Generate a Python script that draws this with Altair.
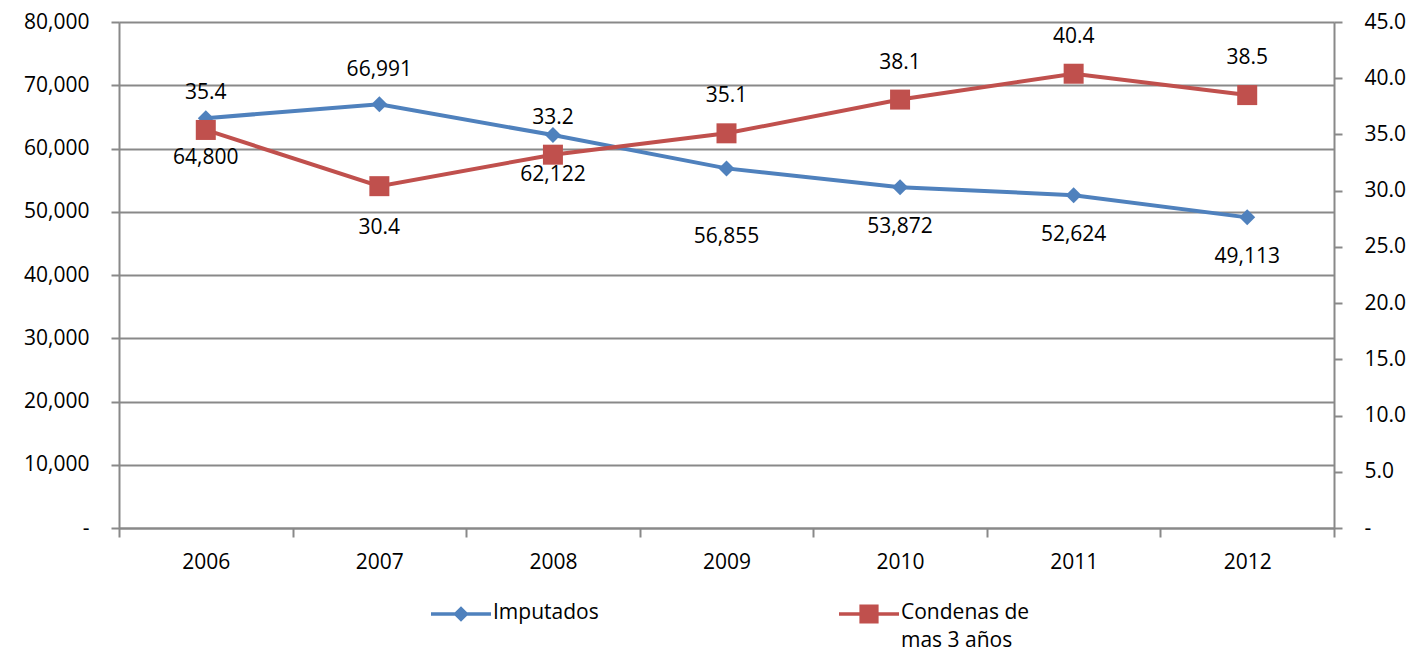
import altair as alt
import pandas as pd

years = ["2006", "2007", "2008", "2009", "2010", "2011", "2012"]
imputados = [64800, 66991, 62122, 56855, 53872, 52624, 49113]
condenas = [35.4, 30.4, 33.2, 35.1, 38.1, 40.4, 38.5]
series_names = ["Imputados", "Condenas de mas 3 años"]

# label placement groups (which years get labels above / below / further below)
blue_above = ["2007"]
blue_below_far = ["2009"]
red_below = ["2007"]

BLUE = "#4F81BD"
RED = "#C0504D"
GRAY = "#898989"
FONT = "Open Sans"
FS = 21

df = pd.DataFrame({"year": years, "imputados": imputados, "condenas": condenas})

x_enc = alt.X(
    "year:O",
    title=None,
    bandPosition=0.5,
    scale=alt.Scale(type="band", paddingInner=0, paddingOuter=0),
    axis=alt.Axis(
        tickBand="extent", labelAngle=0, domainColor=GRAY, domainWidth=2,
        tickColor=GRAY, tickWidth=2, tickSize=9, labelPadding=14,
        labelFont=FONT, labelFontSize=FS, labelColor="black", grid=False,
    ),
)

y_left = alt.Y(
    "imputados:Q",
    title=None,
    scale=alt.Scale(domain=[0, 80000], nice=False, zero=True),
    axis=alt.Axis(
        orient="left", values=list(range(0, 80001, 10000)),
        labelExpr="datum.value == 0 ? '-' : format(datum.value, ',')",
        domainColor=GRAY, domainWidth=2, tickColor=GRAY, tickWidth=2, tickSize=8,
        labelPadding=22, labelFont=FONT, labelFontSize=FS, labelColor="black",
        grid=True, gridColor=GRAY, gridWidth=2,
    ),
)

y_right = alt.Y(
    "condenas:Q",
    title=None,
    scale=alt.Scale(domain=[0, 45], nice=False, zero=True),
    axis=alt.Axis(
        orient="right", values=[0, 5, 10, 15, 20, 25, 30, 35, 40, 45],
        labelExpr="datum.value == 0 ? '-' : format(datum.value, '.1f')",
        domainColor=GRAY, domainWidth=2, tickColor=GRAY, tickWidth=2, tickSize=8,
        labelPadding=22, labelFont=FONT, labelFontSize=FS, labelColor="black",
        grid=False,
    ),
)

base = alt.Chart(df).encode(x=x_enc)

def text_layer(data_field, fmt, dy, filt):
    return base.transform_filter(filt).mark_text(
        font=FONT, fontSize=FS, color="black", dy=dy, baseline="middle"
    ).encode(text=alt.Text(data_field + ":Q", format=fmt))

blue_above_f = alt.FieldOneOfPredicate(field="year", oneOf=blue_above)
blue_far_f = alt.FieldOneOfPredicate(field="year", oneOf=blue_below_far)
blue_other_f = alt.LogicalNotPredicate(**{"not": alt.FieldOneOfPredicate(field="year", oneOf=blue_above + blue_below_far)})
red_below_f = alt.FieldOneOfPredicate(field="year", oneOf=red_below)
red_other_f = alt.LogicalNotPredicate(**{"not": alt.FieldOneOfPredicate(field="year", oneOf=red_below)})

blue = alt.layer(
    base.mark_line(color=BLUE, strokeWidth=4),
    base.mark_point(shape="diamond", filled=True, size=256, color=BLUE, opacity=1),
    text_layer("imputados", ",", -34, blue_above_f),
    text_layer("imputados", ",", 69, blue_far_f),
    text_layer("imputados", ",", 40, blue_other_f),
).encode(y=y_left)

red = alt.layer(
    base.mark_line(color=RED, strokeWidth=4),
    base.mark_point(shape="square", filled=True, size=400, color=RED, opacity=1),
    text_layer("condenas", ".1f", 42, red_below_f),
    text_layer("condenas", ".1f", -37, red_other_f),
).encode(y=y_right)

diamond_path = "M-2.5,0.85H2.5V1.15H-2.5Z M0,0.35L0.65,1L0,1.65L-0.65,1Z"
square_path = "M-2.5,0.85H2.5V1.15H-2.5Z M-0.8,0.2H0.8V1.8H-0.8Z"

legend_layer = alt.Chart(df).transform_filter("false").transform_calculate(
    s="'Imputados'"
).mark_point(filled=True, opacity=1).encode(
    color=alt.Color(
        "s:N",
        scale=alt.Scale(domain=series_names, range=[BLUE, RED]),
        legend=alt.Legend(
            title=None, orient="none", legendX=330, legendY=568,
            direction="horizontal", symbolSize=576, symbolStrokeWidth=0,
            labelFont=FONT, labelFontSize=FS, labelColor="black", labelLimit=0,
            labelOffset=20, labelBaseline="top", columnPadding=240, padding=0,
            labelExpr="datum.label == 'Condenas de mas 3 años' ? ['Condenas de', 'mas 3 años'] : [datum.label, '']",
        ),
    ),
    shape=alt.Shape(
        "s:N",
        scale=alt.Scale(domain=series_names, range=[diamond_path, square_path]),
    ),
)

chart = alt.layer(blue, red, legend_layer).resolve_scale(
    y="independent"
).properties(
    width=1215, height=506,
    padding={"left": 111, "top": 14, "right": 75, "bottom": 120},
    autosize=alt.AutoSizeParams(type="none"),
).configure_view(stroke=None).configure(
    background="white",
    style={"guide-label": {"lineHeight": 28}},
)

chart.save("out.html", embed_options={"renderer": "svg", "actions": False})
